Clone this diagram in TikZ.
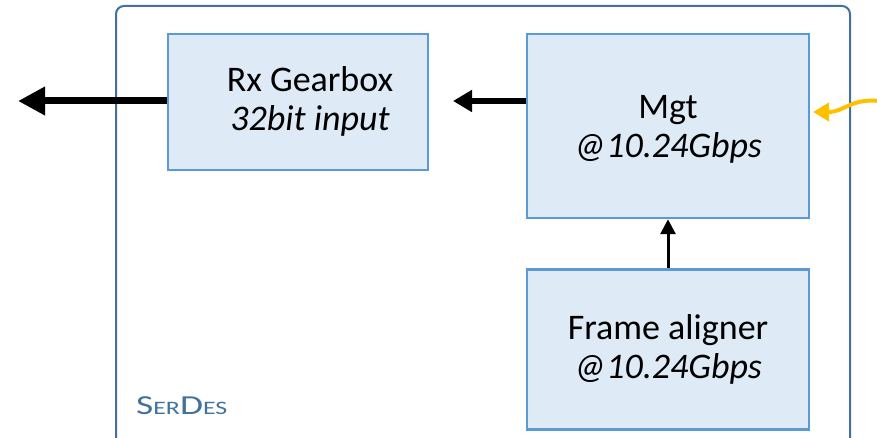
\documentclass[tikz,border=0pt]{standalone}
\usepackage{fontspec}
\setmainfont{Carlito}
\usetikzlibrary{arrows.meta}
\definecolor{outerblue}{HTML}{41719C}
\definecolor{boxfill}{HTML}{DEEBF7}
\definecolor{boxline}{HTML}{5B9BD5}
\definecolor{orangearr}{HTML}{FFC000}
\tikzset{
  blockbox/.style={draw=boxline, fill=boxfill, line width=2.5pt, inner sep=0pt, align=center,
    font=\fontsize{36}{39}\selectfont},
  blocktext/.style={align=center, inner sep=0pt, font=\fontsize{36}{39}\selectfont},
  thickarr/.style={line width=7pt, -{Triangle[length=27pt,width=27pt]}},
  midarr/.style={line width=6pt, -{Triangle[length=19pt,width=21pt]}},
  thinarr/.style={line width=3pt, -{Triangle[length=15pt,width=15pt]}},
}
\begin{document}
\begin{tikzpicture}[x=1pt,y=-1pt]
\useasboundingbox (0,0) rectangle (877,438);
\clip (0,0) rectangle (877,438);
\draw[outerblue, line width=2pt, rounded corners=8pt] (116,6) rectangle (850,470);
\node[blockbox, minimum width=260pt, minimum height=136pt] (rx) at (298,102) {};
\node[blocktext] (rxtext) at (310,101) {Rx Gearbox\\\textit{32bit input}};
\node[blockbox, minimum width=282pt, minimum height=184pt] (mgt) at (668,126) {};
\node[blocktext] (mgttext) at (668,129) {Mgt\\\textit{@10.24Gbps}};
\node[blockbox, minimum width=282pt, minimum height=160pt, anchor=north] (fa) at (668,268) {};
\node[blocktext] (fatext) at (668,349) {Frame aligner\\\textit{@10.24Gbps}};
\node[anchor=base west, inner sep=0pt, text=outerblue] (serdes) at (136,414)
  {\scalebox{1.36}[1]{\fontsize{27.5}{26}\selectfont S\fontsize{19}{18}\selectfont ER\fontsize{27.5}{26}\selectfont D\fontsize{19}{18}\selectfont ES}};
\coordinate (outleft) at (18,101);
\coordinate (rxin) at (453,101);
\coordinate (orstart) at (880,101);
\coordinate (orend) at (813,112);
\draw[thickarr] (rx.west |- outleft) -- (outleft);
\draw[midarr] (mgt.west |- rxin) -- (rxin);
\draw[thinarr] (fa.north) -- (mgt.south);
\draw[orangearr, line width=4pt, -{Triangle[length=16pt,width=18pt]}]
  (orstart) .. controls (850,98) and (845,112) .. (orend);
\end{tikzpicture}
\end{document}
